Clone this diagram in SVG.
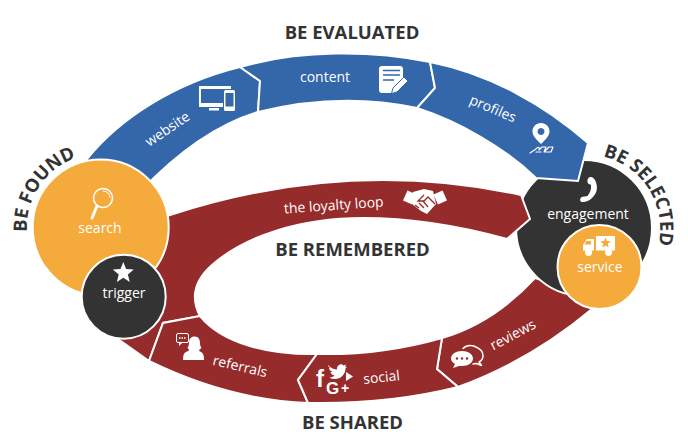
<svg xmlns="http://www.w3.org/2000/svg" width="688" height="446" viewBox="0 0 688 446">
  <style>
    text { font-family: "Open Sans", "Noto Sans", "Liberation Sans", sans-serif; }
    .lbl { fill: #fff; font-size: 14px; text-anchor: middle; }
    .ttl { fill: #333; font-size: 18.500px; font-weight: 700; text-anchor: middle; }
    .arc { fill: #333; font-size: 18.500px; font-weight: 700; }
    .seg { stroke: #fff; stroke-width: 2; stroke-linejoin: miter; }
    .blue { fill: #3466AA; }
    .red { fill: #952B2A; }
    .disc { stroke: #fff; stroke-width: 2; }
    .orange { fill: #F5AA3C; }
    .dark { fill: #333; }
    .ico { fill: #fff; }
    .line { fill: none; stroke: #fff; stroke-linecap: round; stroke-linejoin: round; }
  </style>
  <defs>
    <polygon id="star" points="0,-11 2.82,-3.88 10.46,-3.4 4.56,1.48 6.47,8.9 0,4.8 -6.47,8.9 -4.56,1.48 -10.46,-3.4 -2.82,-3.88"/>
    <path id="found-arc" d="M27,232 A74,74 0 0 1 100.700,153.500 A74,74 0 0 1 130,160"/>
    <path id="selected-arc" d="M603,156.500 A74,74 0 0 1 657,250"/>
  </defs>

  <g id="connectors" fill="none"></g>

  <g id="reviews">
    <path class="seg red" d="M442,338 C480,327 510,305 535,278 L575,290 L598,305 L592,309 C555,340 510,368 458,387 L437,369 Z"/>
    <text class="lbl" transform="translate(515,339) rotate(-28)">reviews</text>
    <path class="ico" d="M462,351 C468,351 473,354 473,358.500 C473,363 468,366 462,366 L459,366 L453,368 L455,364 C452.500,362.500 451,360.500 451,358.500 C451,354 456,351 462,351 Z"/>
    <circle cx="457" cy="358.500" r="1.200" fill="#952B2A"/><circle cx="462" cy="358.500" r="1.200" fill="#952B2A"/><circle cx="467" cy="358.500" r="1.200" fill="#952B2A"/>
    <path class="line" stroke-width="1.500" d="M463,348.500 C466,345.500 471,345 475,346.500 C480,348.500 483,352 483,355.500 C483,358.500 481,361 479,362 L481.500,365.500 L476.500,363.500 L473,364"/>
  </g>

  <g id="engagement">
    <circle class="disc dark" cx="584" cy="228" r="68"/>
    <path class="ico" d="M590,177 C592,176.500 594,178 595.500,181 C598,187 597.500,193 592,198 C589,201 585,202.500 581.500,202 C580,201.500 579.500,199 581,197.500 C583,196 586,196.500 587.500,196 C590,193 591.500,189 591,185 C590,184 588,184.500 587.500,182 C587,180 588,177.500 590,177 Z"/>
    <text class="lbl" x="588" y="219">engagement</text>
  </g>

  <g id="website">
    <path class="seg blue" d="M82,165 L87,159 C120,118 175,83 240,67 L260,81 L258,112 C215,125 175,155 140,192 Z"/>
    <text class="lbl" transform="translate(170,133) rotate(-34)">website</text>
    <path class="ico" d="M199,86 H231 V89 H201 V103 H223 V107 H199 Z"/>
    <rect class="ico" x="209" y="108" width="10" height="2.500"/>
    <rect class="ico" x="224" y="90" width="11" height="21" rx="1.500"/>
    <rect class="blue" x="225.500" y="93" width="8" height="13.500"/>
  </g>

  <g id="content">
    <path class="seg blue" d="M240,67 C300,50 370,50 430,62 L435,88 L417,108 C365,97 310,99 258,112 L260,81 Z"/>
    <text class="lbl" x="325" y="82">content</text>
    <path class="ico" d="M382,66 H400 Q403,66 403,69 V81 L394,93 H382 Q379,93 379,90 V69 Q379,66 382,66 Z"/>
    <path d="M383,70.500 H400 M383,75 H400 M383,80 H394" stroke="#3466AA" stroke-width="1.500" fill="none"/>
    <path class="ico" d="M404,77 L408,81 L397,92 L391.500,93.500 L393,88 Z" stroke="#3466AA" stroke-width="1"/>
  </g>

  <g id="profiles">
    <path class="seg blue" d="M430,62 C490,74 545,105 588,143 L578,181 L536,178 C505,148 460,122 417,108 L435,88 Z"/>
    <text class="lbl" transform="translate(491,113) rotate(23)">profiles</text>
    <path class="ico" fill-rule="evenodd" d="M541,123 C546,123 549.500,127 549.500,131.500 C549.500,136 545,140 541,144 C537,140 532.500,136 532.500,131.500 C532.500,127 536,123 541,123 Z M541,128 A3.500,3.500 0 1 0 541.010,128 Z"/>
    <path class="line" stroke-width="1.200" d="M530,153 L536,149 C538,146.500 540,147 539,150 L542,147 H546 L544,152 L549,147 H553 L551,152 H545 M536,152 H541"/>
  </g>

  <g id="the-loyalty-loop">
    <path class="seg red" d="M149,361 L118,339 L110,300 L120,240 L150,222 L170,215 C225,197 300,180 383,180 C430,180 480,186 521,195 L530,219 L507,239 C460,226 410,218 363,218 C300,218 245,236 212,265 C195,280 190,297 200,316 L163,323 Z"/>
    <text class="lbl" transform="translate(334,210) rotate(-4)">the loyalty loop</text>
    <g class="ico">
      <rect x="-5" y="-5" width="10" height="11" transform="translate(410,197) rotate(24)"/>
      <rect x="-5" y="-5" width="10" height="11" transform="translate(440,197) rotate(-24)"/>
      <path d="M413,192 L424,189 L433,191 L436,204 L427,214 L421,211 L412,204 Z"/>
    </g>
    <path d="M424,195 L418,201 L424,201 L428,197 L435,204 M415,205 L419,208 M419,203 L424,208 M423,201 L428,207" fill="none" stroke="#952B2A" stroke-width="1.300"/>
  </g>

  <g id="referrals">
    <path class="seg red" d="M200,316 C222,343 268,355 317,354 L298,380 L308,403 C255,401 200,386 149,361 L163,323 Z"/>
    <text class="lbl" transform="translate(239,371) rotate(13)">referrals</text>
    <rect x="176.500" y="333.500" width="12" height="9" rx="1.500" fill="none" stroke="#fff" stroke-width="1"/>
    <path d="M179,342.500 V346 L182.500,342.500 Z" fill="#fff"/>
    <path d="M179,338 H186" stroke="#fff" stroke-width="1.500" stroke-dasharray="1.500 1" fill="none"/>
    <path class="ico" d="M194.500,336.500 C199,336.500 200,340 200,343 C200,346 201,347 201.500,348 C198.500,350 198.500,351 201,352 C203,353 204,355 204,360 H183 C183,355 184,353 186,352 C189,351 190,350 187.500,348 C188.500,346 189,345 189,342 C189,339 191,336.500 194.500,336.500 Z"/>
  </g>

  <g id="social">
    <path class="seg red" d="M317,354 C360,355 400,350 442,338 L437,369 L458,387 C410,399 360,404 308,403 L298,380 Z"/>
    <text class="lbl" transform="translate(382,382) rotate(-6)">social</text>
    <text x="316" y="387" fill="#fff" font-size="24" font-weight="700" style="font-family:'Liberation Sans',sans-serif">f</text>
    <text x="326" y="394" fill="#fff" font-size="17" font-weight="700" style="font-family:'Liberation Sans',sans-serif">G</text>
    <text x="341" y="393" fill="#fff" font-size="14" font-weight="700" style="font-family:'Liberation Sans',sans-serif">+</text>
    <path class="ico" d="M328,365 C331,368 334,369.500 337,369.500 C336.500,365.500 341,362.500 343.500,365.500 L346,364.500 L345,367 L347,366.500 L345.500,368.500 C345.500,374 341,379 335,379 C333,379 331,378.500 329,377.500 C331,377.500 333,377 334.500,375.500 C332,375 331,373.500 330.500,372 L332.500,372 C330,371 329,369 329,367.500 L331,368 C329,367 328,366.500 328,365 Z"/>
    <path class="ico" d="M346,372 L353,376.500 L346,381 Z"/>
  </g>

  <g id="search">
    <circle class="disc orange" cx="100.700" cy="227.500" r="68"/>
    <circle cx="103" cy="198" r="9.500" fill="none" stroke="#fff" stroke-width="1.600"/>
    <path d="M103,191 A7,7 0 0 1 110,198" fill="none" stroke="#fff" stroke-width="1"/>
    <path class="line" stroke-width="3" d="M97,206 L92,218"/>
    <text class="lbl" x="100" y="233">search</text>
  </g>

  <g id="trigger">
    <circle class="disc dark" cx="123.700" cy="296.700" r="42"/>
    <use href="#star" class="ico" x="123.300" y="273"/>
    <text class="lbl" x="124" y="298">trigger</text>
  </g>

  <g id="service">
    <circle class="disc orange" cx="599.500" cy="267" r="42"/>
    <path class="ico" d="M596,236 H615 V250.500 H596 Z"/>
    <path class="ico" d="M587,239 H594 V250.500 H583 V245 Z"/>
    <path d="M586.500,241 H591 V244.500 H584.500 Z" fill="#F5AA3C"/>
    <circle class="ico" cx="588.500" cy="252.500" r="3.500"/>
    <circle class="ico" cx="608.500" cy="252.500" r="3.500"/>
    <use href="#star" x="605.500" y="243" transform="translate(302.750,121.500) scale(.5)" fill="#F5AA3C"/>
    <text class="lbl" x="600" y="272">service</text>
  </g>

  <g id="captions">
    <text class="ttl" x="352" y="39">BE EVALUATED</text>
    <text class="ttl" x="352.500" y="256">BE REMEMBERED</text>
    <text class="ttl" x="352.500" y="429">BE SHARED</text>
    <text class="arc"><textPath href="#found-arc">BE FOUND</textPath></text>
    <text class="arc"><textPath href="#selected-arc">BE SELECTED</textPath></text>
  </g>
</svg>
